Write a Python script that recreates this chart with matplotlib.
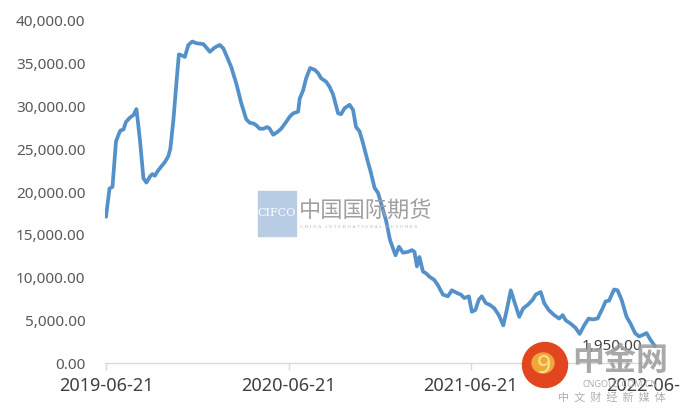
import matplotlib
matplotlib.use('Agg')
import matplotlib.pyplot as plt
from matplotlib.ticker import FuncFormatter
from matplotlib.patches import Rectangle, Ellipse
import numpy as np

# values (days since the first date, price)
start_date = '2019-06-21'
day_offset = [0, 7, 13, 20, 25, 29, 35, 40, 48, 55, 61, 68, 75, 81, 88, 93, 98, 103,
              111, 118, 125, 129, 135, 141, 146, 151, 158, 165, 173, 181, 195, 201,
              208, 218, 228, 235, 241, 251, 261, 271, 281, 288, 296, 301, 308, 315,
              323, 328, 335, 343, 351, 361, 368, 375, 385, 388, 395, 401, 409, 418,
              425, 431, 441, 448, 455, 465, 471, 478, 488, 495, 501, 508, 515, 523,
              531, 538, 545, 551, 561, 569, 580, 587, 595, 605, 613, 618, 623, 628,
              635, 641, 648, 658, 665, 675, 685, 693, 703, 711, 718, 727, 733, 740,
              747, 753, 761, 769, 778, 787, 796, 803, 811, 818, 828, 836, 845, 855,
              861, 871, 878, 887, 898, 908, 915, 921, 931, 941, 949, 958, 967, 975,
              985, 995, 1001, 1008, 1018, 1025, 1033, 1043, 1051, 1060, 1068, 1076,
              1083, 1091, 1100]
price = [17100, 20400, 20600, 25900, 26700, 27200, 27300, 28200, 28700, 29000, 29700,
         26100, 21600, 21100, 21800, 22100, 21900, 22400, 23000, 23500, 24200, 25100,
         28400, 32700, 36100, 36000, 35800, 37200, 37600, 37400, 37300, 36900, 36400,
         36900, 37200, 36800, 36000, 34600, 32700, 30400, 28500, 28100, 28000, 27800,
         27400, 27400, 27600, 27400, 26700, 27000, 27400, 28200, 28800, 29200, 29400,
         30900, 31900, 33300, 34500, 34300, 33900, 33300, 32900, 32300, 31400, 29200,
         29100, 29800, 30200, 29600, 27600, 27100, 25700, 23900, 22200, 20500, 19900,
         18700, 16700, 14400, 12600, 13600, 12900, 13000, 13200, 13000, 11300, 12400,
         10700, 10500, 10100, 9700, 9100, 8000, 7800, 8500, 8200, 8000, 7600, 7800,
         6000, 6200, 7400, 7800, 7000, 6800, 6400, 5600, 4400, 6200, 8500, 7200, 5400,
         6400, 6800, 7400, 8000, 8300, 7000, 6200, 5600, 5200, 5600, 5000, 4600, 4100,
         3400, 4400, 5200, 5100, 5200, 6400, 7200, 7300, 8600, 8500, 7400, 5400, 4600,
         3500, 3100, 3300, 3500, 2700, 1950]
tick_dates = ['2019-06-21', '2020-06-21', '2021-06-21', '2022-06-21']
last_label = '1,950.00'

plt.rcParams['font.family'] = ['Noto Sans', 'Noto Sans CJK SC', 'DejaVu Sans']

start = np.datetime64(start_date)
dates = start + np.array(day_offset).astype('timedelta64[D]')

fig = plt.figure(figsize=(6.8, 4.15), dpi=100)
ax = fig.add_axes([105 / 680, 1 - 363 / 415, 555 / 680, 342 / 415])
ax.plot(dates, price, color='#5591c9', lw=2.7, solid_joinstyle='round',
        solid_capstyle='round')

ax.set_ylim(0, 40000)
ax.set_xlim(start - np.timedelta64(2, 'D'), start + np.timedelta64(1110, 'D'))
ax.set_yticks(np.arange(0, 40001, 5000))
ax.yaxis.set_major_formatter(FuncFormatter(lambda v, p: f'{v:,.2f}'))
ax.set_xticks(np.array(tick_dates, dtype='datetime64[D]'))
ax.set_xticklabels(tick_dates)

for s in ['top', 'right', 'left']:
    ax.spines[s].set_visible(False)
ax.spines['bottom'].set_color('#d9d9d9')
ax.spines['bottom'].set_linewidth(1.0)
ax.tick_params(axis='y', length=0, labelsize=11, labelcolor='#595959', pad=14)
ax.tick_params(axis='x', length=5, width=1, color='#d9d9d9', labelsize=13,
               labelcolor='#404040', pad=5)

ax.annotate(last_label, (dates[-1], price[-1]), xytext=(-9, 0),
            textcoords='offset points', ha='right', va='center',
            fontsize=11, color='#404040')

# watermarks
def fx(x):
    return x / 680

def fy(y):
    return 1 - y / 415

fig.patches.append(Rectangle((fx(258), fy(236)), 38 / 680, 45 / 415,
                             transform=fig.transFigure, color='#b8cce4', zorder=2))
fig.text(fx(277), fy(213), 'CIFCO', color='white', fontsize=8, family='DejaVu Serif',
         ha='center', va='center', zorder=3)
fig.text(fx(299), fy(210), '中国国际期货', color='#a0a0a0', fontsize=16,
         family=['Noto Sans CJK SC', 'DejaVu Sans'], ha='left', va='center', zorder=3)
fig.text(fx(300), fy(227), 'C H I N A   I N T E R N A T I O N A L   F U T U R E S',
         color='#b8b8b8', fontsize=3.2, family='DejaVu Serif', ha='left', va='center',
         zorder=3)

fig.patches.append(Ellipse((fx(545), fy(365)), 45 / 680, 45 / 415,
                           transform=fig.transFigure, color='#e2461e', zorder=2))
fig.patches.append(Ellipse((fx(543), fy(363)), 22 / 680, 20 / 415,
                           transform=fig.transFigure, color='#f0a73a', zorder=2))
fig.text(fx(544), fy(366), '9', color='#fbe08a', fontsize=18, fontweight='bold',
         ha='center', va='center', zorder=3)
fig.text(fx(620), fy(361), '中金网', color='#9a9a9a', fontsize=23, fontweight='bold',
         family=['Noto Sans CJK SC', 'DejaVu Sans'], ha='center', va='center',
         alpha=0.85, zorder=3)
fig.text(fx(620), fy(384), 'CNGOLD.COM.CN', color='#b0b0b0', fontsize=6.5,
         ha='center', va='center', zorder=3)
fig.text(fx(612), fy(397), '中  文  财  经  新  媒  体', color='#b0b0b0', fontsize=8,
         family=['Noto Sans CJK SC', 'DejaVu Sans'], ha='center', va='center', zorder=3)

fig.savefig('out.png', dpi=100)
